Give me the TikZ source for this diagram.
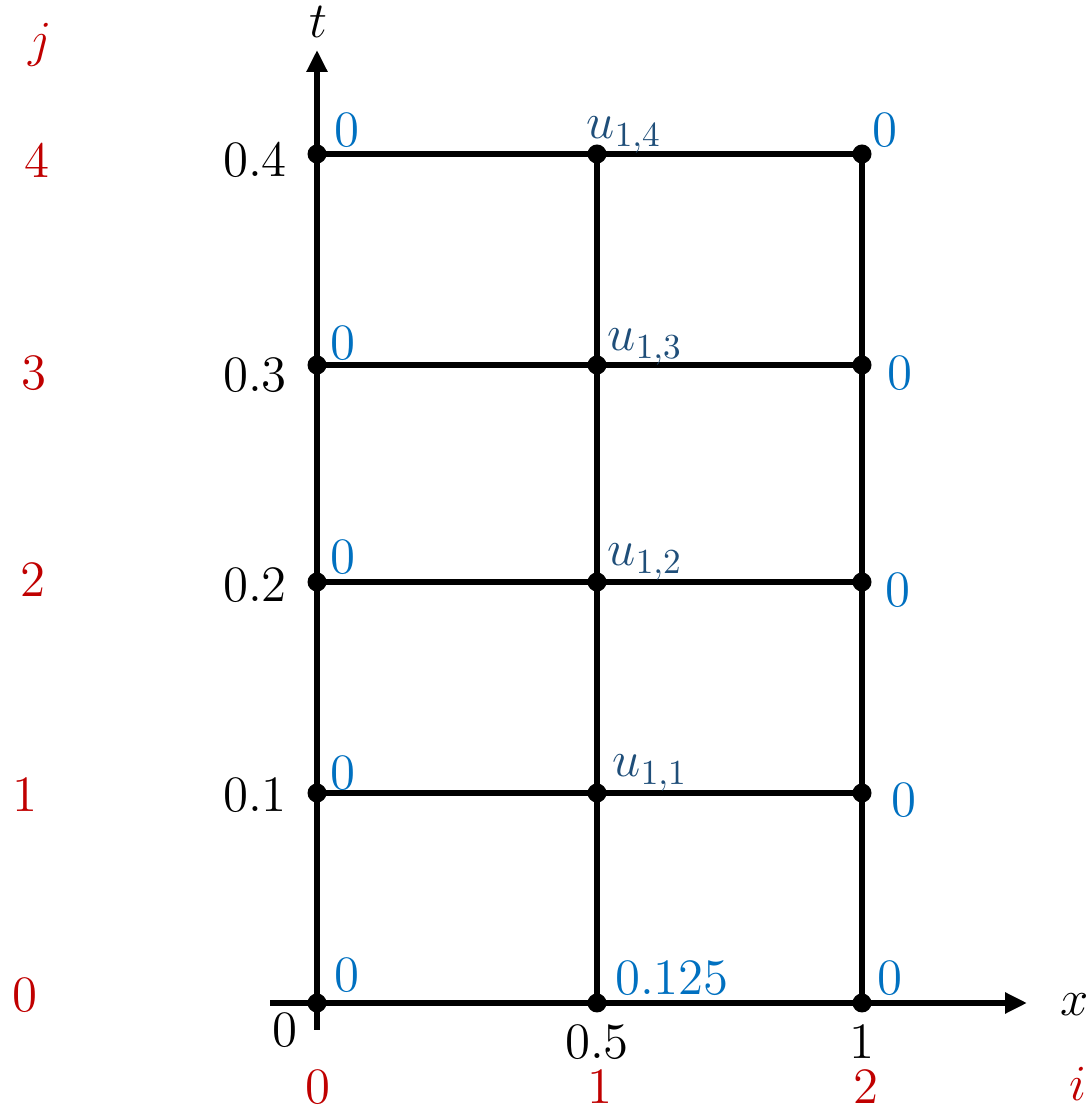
\documentclass[tikz,border=0pt]{standalone}
\usepackage{amsmath}
\usetikzlibrary{arrows.meta}
\definecolor{idxred}{HTML}{C00000}
\definecolor{bcblue}{HTML}{0070C0}
\definecolor{udark}{HTML}{1F4E79}

\begin{document}
\begin{tikzpicture}[
	grid/.style={line width=1.55pt},
	axis/.style={line width=1.55pt,-{Triangle[length=2.2mm,width=2mm]}},
	dot/.style={circle,fill=black,inner sep=0pt,minimum size=1.9mm},
	lbl/.style={font=\fontsize{14.5}{16}\selectfont,inner sep=0pt},
	idx/.style={lbl,text=idxred},
	bc/.style={lbl,text=bcblue},
	uval/.style={lbl,text=udark}]
		\useasboundingbox (0,0) rectangle (10.91,11.09);
		% grid points
		\coordinate (p00) at (3.17,1.06); \coordinate (p10) at (5.97,1.06); \coordinate (p20) at (8.62,1.06);
		\coordinate (p01) at (3.17,3.16); \coordinate (p11) at (5.97,3.16); \coordinate (p21) at (8.62,3.16);
		\coordinate (p02) at (3.17,5.27); \coordinate (p12) at (5.97,5.27); \coordinate (p22) at (8.62,5.27);
		\coordinate (p03) at (3.17,7.44); \coordinate (p13) at (5.97,7.44); \coordinate (p23) at (8.62,7.44);
		\coordinate (p04) at (3.17,9.55); \coordinate (p14) at (5.97,9.55); \coordinate (p24) at (8.62,9.55);
		% axes
		\coordinate (tbot) at (3.17,0.79); \coordinate (ttop) at (3.17,10.59);
		\coordinate (xlft) at (2.70,1.06); \coordinate (xrgt) at (10.27,1.06);
		\draw[axis] (tbot) -- (ttop);
		\draw[axis] (xlft) -- (xrgt);
		% grid lines
		\foreach \j in {1,2,3,4}
			\draw[grid] (p0\j) -- (p2\j);
		\draw[grid] (p10) -- (p14);
		\draw[grid] (p20) -- (p24);
		\foreach \i in {0,1,2}
			\foreach \j in {0,...,4}
				\node[dot] (d\i\j) at (p\i\j) {};
		% axis names
		\node[lbl] (tname) at (3.18,10.87) {$t$};
		\node[lbl] (xname) at (10.75,1.04) {$x$};
		\node[idx] (jname) at (0.40,10.64) {$j$};
		\node[idx] (iname) at (10.78,0.25) {$i$};
		% j indices and t values
		\node[idx] (j4) at (0.37,9.49) {4};
		\node[idx] (j3) at (0.34,7.36) {3};
		\node[idx] (j2) at (0.33,5.29) {2};
		\node[idx] (j1) at (0.25,3.14) {1};
		\node[idx] (j0) at (0.25,1.14) {0};
		\node[lbl] (t4) at (2.55,9.49) {0.4};
		\node[lbl] (t3) at (2.55,7.34) {0.3};
		\node[lbl] (t2) at (2.55,5.24) {0.2};
		\node[lbl] (t1) at (2.55,3.14) {0.1};
		% x values and i indices
		\node[lbl] (x0) at (2.85,0.79) {0};
		\node[lbl] (x1) at (5.97,0.67) {0.5};
		\node[lbl] (x2) at (8.62,0.67) {1};
		\node[idx] (i0) at (3.18,0.22) {0};
		\node[idx] (i1) at (6.00,0.22) {1};
		\node[idx] (i2) at (8.66,0.22) {2};
		% boundary and initial values
		\node[bc] (b04) at (3.47,9.79) {0};
		\node[bc] (b03) at (3.43,7.66) {0};
		\node[bc] (b02) at (3.43,5.52) {0};
		\node[bc] (b01) at (3.43,3.36) {0};
		\node[bc] (b00) at (3.47,1.34) {0};
		\node[bc] (b24) at (8.85,9.79) {0};
		\node[bc] (b23) at (9.00,7.36) {0};
		\node[bc] (b22) at (8.98,5.19) {0};
		\node[bc] (b21) at (9.04,3.09) {0};
		\node[bc] (b20) at (8.90,1.31) {0};
		\node[bc] (b10) at (6.72,1.31) {0.125};
		% unknowns
		\node[uval] (u14) at (6.24,9.74) {$u_{1,4}$};
		\node[uval] (u13) at (6.45,7.62) {$u_{1,3}$};
		\node[uval] (u12) at (6.45,5.47) {$u_{1,2}$};
		\node[uval] (u11) at (6.50,3.36) {$u_{1,1}$};
\end{tikzpicture}
\end{document}
